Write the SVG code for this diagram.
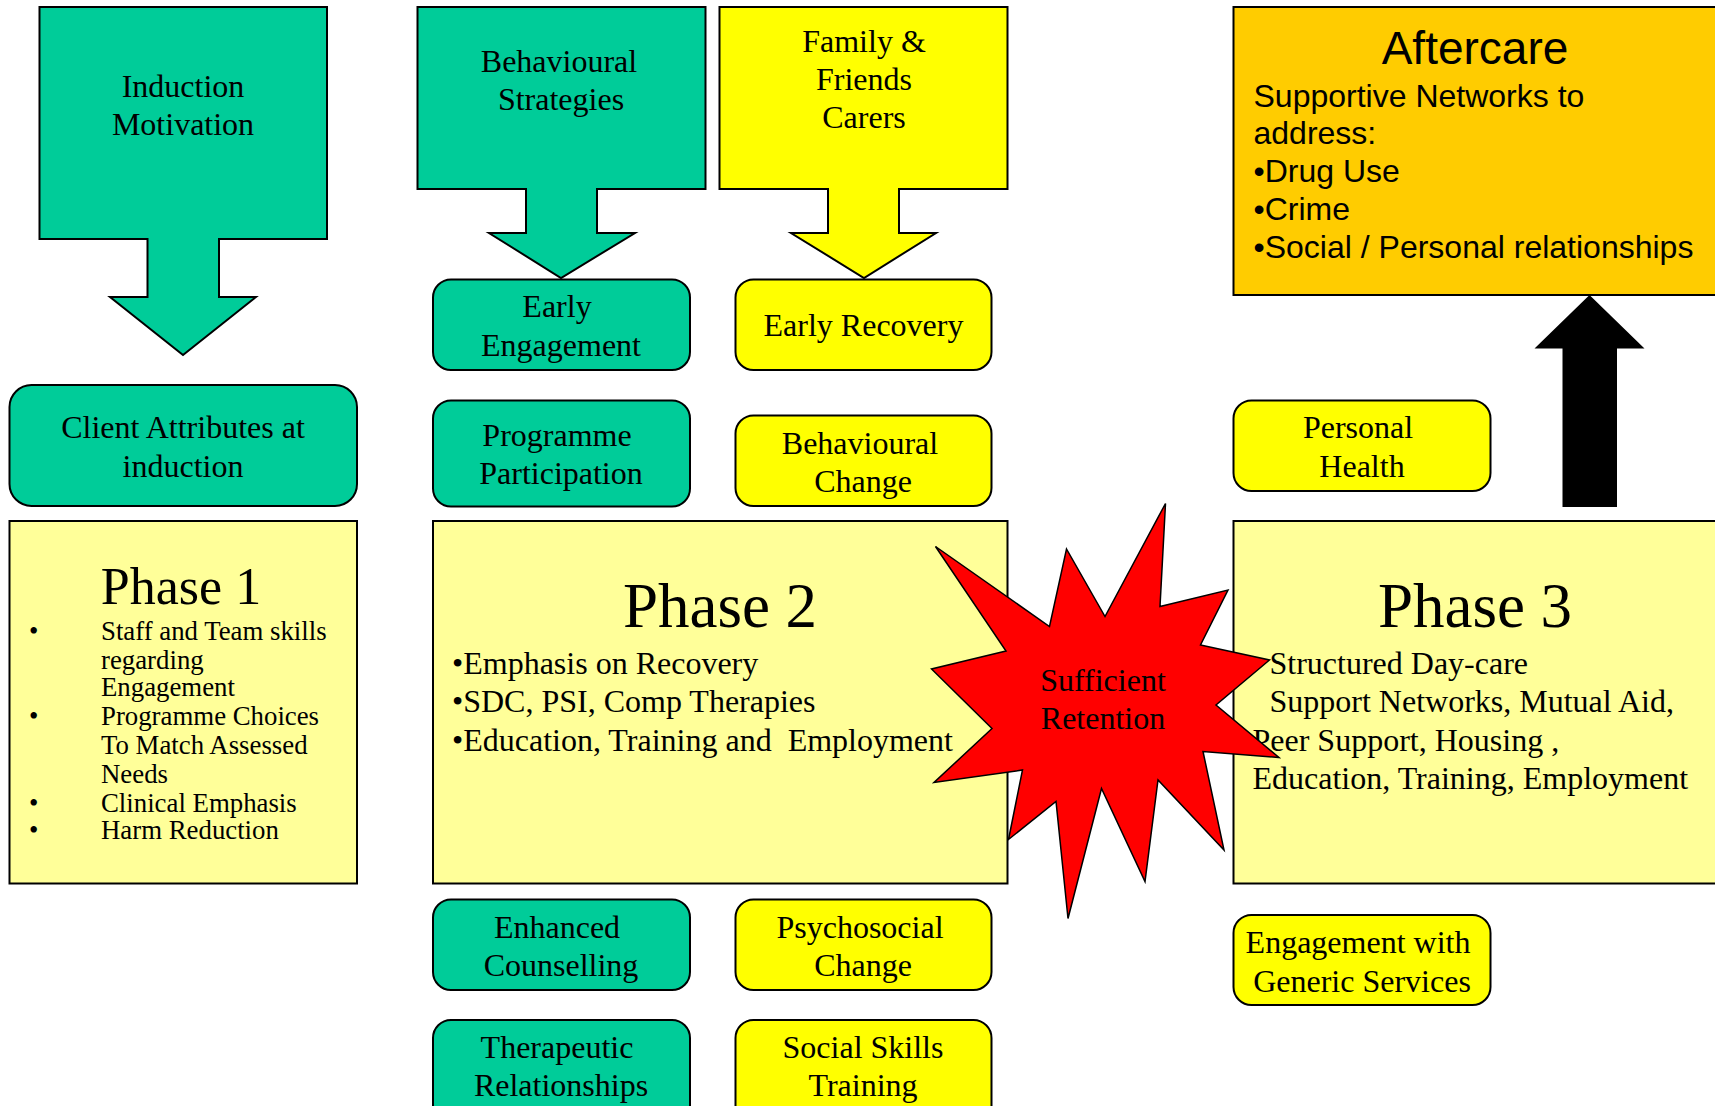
<svg xmlns="http://www.w3.org/2000/svg" width="1715" height="1106" viewBox="0 0 1715 1106">
<style>
.teal{fill:#00CC99;stroke:#000;stroke-width:2}
.yel{fill:#FFFF00;stroke:#000;stroke-width:2}
.lyel{fill:#FFFF99;stroke:#000;stroke-width:2}
.org{fill:#FFCC00;stroke:#000;stroke-width:2}
.red{fill:#FF0000;stroke:#000;stroke-width:1.5}
.t{font-family:"Liberation Serif","Times New Roman",serif;font-size:32px;fill:#000}
.c{text-anchor:middle}
.p1{font-size:26.8px}
.ph1{font-size:52px}
.ph{font-size:63px}
.s{font-family:"Liberation Sans",Arial,sans-serif;font-size:32px;fill:#000}
.h{font-size:46px}
.pre{white-space:pre}
</style>
<rect width="1715" height="1106" fill="#fff"/>

<g id="induction-motivation">
<path class="teal" d="M39.5,7 H327 V239 H219 V297 H256 L183,355 L110,297 H147.5 V239 H39.5 Z"/>
<text class="t c" x="183" y="96.5">Induction</text>
<text class="t c" x="183" y="135">Motivation</text>
</g>

<g id="behavioural-strategies">
<path class="teal" d="M417.5,7 H705.5 V189 H597 V233 H635 L561,278 L489,233 H526 V189 H417.5 Z"/>
<text class="t c" x="559" y="71.5">Behavioural</text>
<text class="t c" x="561" y="109.5">Strategies</text>
</g>

<g id="family-friends-carers">
<path class="yel" d="M719.5,7 H1007.5 V189 H899 V233 H936 L864,278 L791,233 H828 V189 H719.5 Z"/>
<text class="t c" x="864" y="52">Family &amp;</text>
<text class="t c" x="864" y="90">Friends</text>
<text class="t c" x="864" y="128">Carers</text>
</g>

<g id="aftercare">
<rect class="org" x="1233.5" y="7" width="490" height="288"/>
<text class="s c h" x="1475" y="64">Aftercare</text>
<text class="s" x="1253.5" y="106.5">Supportive Networks to</text>
<text class="s" x="1253.5" y="144">address:</text>
<text class="s" x="1253.5" y="182">•Drug Use</text>
<text class="s" x="1253.5" y="220">•Crime</text>
<text class="s" x="1253.5" y="258">•Social / Personal relationships</text>
</g>

<g id="early-engagement">
<rect class="teal" x="433" y="279.5" width="257" height="90.5" rx="18"/>
<text class="t c" x="557" y="317">Early</text>
<text class="t c" x="561" y="355.5">Engagement</text>
</g>

<g id="early-recovery">
<rect class="yel" x="735.5" y="279.5" width="256" height="90.5" rx="18"/>
<text class="t c" x="863.5" y="336">Early Recovery</text>
</g>

<g id="client-attributes">
<rect class="teal" x="9.5" y="385" width="347.5" height="121" rx="22"/>
<text class="t c" x="183" y="437.5">Client Attributes at</text>
<text class="t c" x="183" y="476.5">induction</text>
</g>

<g id="programme-participation">
<rect class="teal" x="433" y="400.5" width="257" height="106" rx="18"/>
<text class="t c" x="557" y="445.5">Programme</text>
<text class="t c" x="561" y="484">Participation</text>
</g>

<g id="behavioural-change">
<rect class="yel" x="735.5" y="415.5" width="256" height="90.5" rx="18"/>
<text class="t c" x="860" y="453.5">Behavioural</text>
<text class="t c" x="863" y="492">Change</text>
</g>

<g id="personal-health">
<rect class="yel" x="1233.5" y="400.5" width="257" height="90.5" rx="18"/>
<text class="t c" x="1358" y="438">Personal</text>
<text class="t c" x="1362" y="476.5">Health</text>
</g>

<g id="connectors">
<path d="M1562.5,507 V348.5 H1534.5 L1589.5,295 L1644.5,348.5 H1617 V507 Z" fill="#000"/>
</g>

<g id="phase-1">
<rect class="lyel" x="9.5" y="521" width="347.5" height="362.5"/>
<text class="t c ph1" x="181" y="604">Phase 1</text>
<g class="t p1">
<text x="29" y="640">•</text>
<text x="101" y="640">Staff and Team skills</text>
<text x="101" y="668.5">regarding</text>
<text x="101" y="696">Engagement</text>
<text x="29" y="725">•</text>
<text x="101" y="725">Programme Choices</text>
<text x="101" y="754">To Match Assessed</text>
<text x="101" y="782.5">Needs</text>
<text x="29" y="811.5">•</text>
<text x="101" y="811.5">Clinical Emphasis</text>
<text x="29" y="839">•</text>
<text x="101" y="839">Harm Reduction</text>
</g>
</g>

<g id="phase-2">
<rect class="lyel" x="433" y="521" width="574.5" height="362.5"/>
<text class="t c ph" x="720" y="627">Phase 2</text>
<text class="t" x="452" y="673.5">•Emphasis on Recovery</text>
<text class="t" x="452" y="712">•SDC, PSI, Comp Therapies</text>
<text class="t pre" x="452" y="750.5">•Education, Training and  Employment</text>
</g>

<g id="phase-3">
<rect class="lyel" x="1233.5" y="521" width="490" height="362.5"/>
<text class="t c ph" x="1475" y="627">Phase 3</text>
<text class="t" x="1269.5" y="673.5">Structured Day-care</text>
<text class="t" x="1269.5" y="712">Support Networks, Mutual Aid,</text>
<text class="t" x="1252.5" y="750.5">Peer Support, Housing ,</text>
<text class="t" x="1252.5" y="789">Education, Training, Employment</text>
</g>

<g id="sufficient-retention">
<polygon class="red" points="1165.5,503.5 1160,606.5 1228,590 1200.5,645 1269.5,660 1216,705 1279,757.5 1203,751.5 1224,850 1158,780 1145,881.5 1101.5,788.5 1068,918.5 1056,801.5 1008.5,839.5 1022.5,770 934,782.5 992,728.5 931.5,669 1006,651 935.5,546.5 1049.5,626.5 1066.5,549 1105,616.5"/>
<text class="t c" x="1103" y="690.5">Sufficient</text>
<text class="t c" x="1103" y="729">Retention</text>
</g>

<g id="enhanced-counselling">
<rect class="teal" x="433" y="899.5" width="257" height="90.5" rx="18"/>
<text class="t c" x="557" y="937.5">Enhanced</text>
<text class="t c" x="561" y="976">Counselling</text>
</g>

<g id="psychosocial-change">
<rect class="yel" x="735.5" y="899.5" width="256" height="90.5" rx="18"/>
<text class="t c" x="860" y="937.5">Psychosocial</text>
<text class="t c" x="863" y="976">Change</text>
</g>

<g id="engagement-generic-services">
<rect class="yel" x="1233.5" y="915" width="257" height="90" rx="18"/>
<text class="t c" x="1358" y="953">Engagement with</text>
<text class="t c" x="1362" y="991.5">Generic Services</text>
</g>

<g id="therapeutic-relationships">
<rect class="teal" x="433" y="1020" width="257" height="106" rx="18"/>
<text class="t c" x="557" y="1057.5">Therapeutic</text>
<text class="t c" x="561" y="1096">Relationships</text>
</g>

<g id="social-skills-training">
<rect class="yel" x="735.5" y="1020" width="256" height="106" rx="18"/>
<text class="t c" x="863" y="1057.5">Social Skills</text>
<text class="t c" x="863" y="1096">Training</text>
</g>
</svg>
